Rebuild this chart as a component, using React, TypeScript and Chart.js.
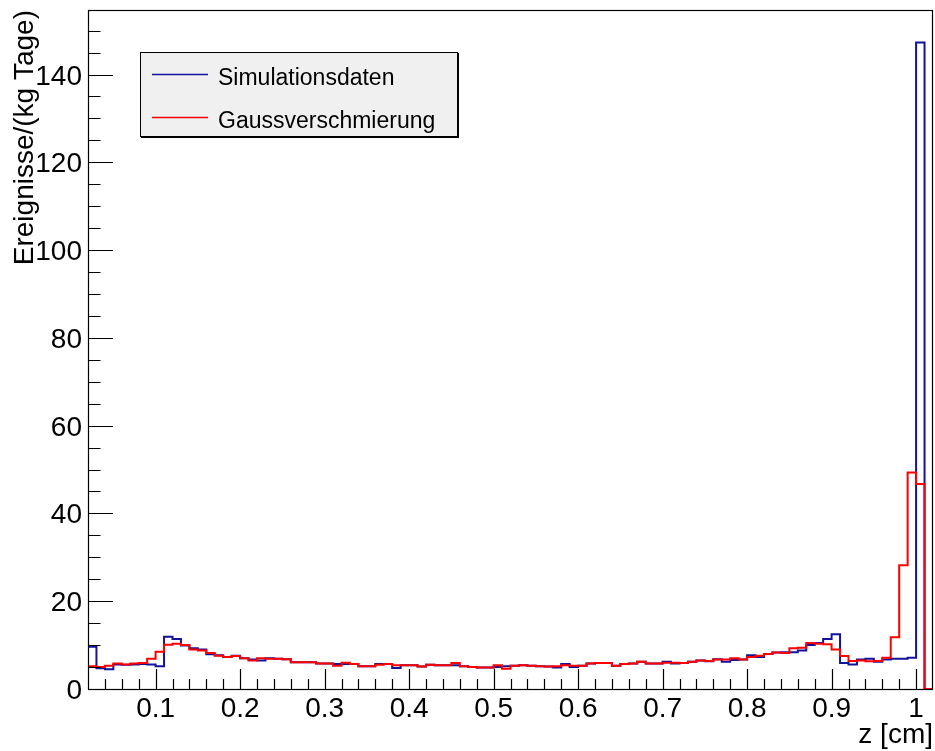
import React, { useEffect, useRef } from "react";
import { Chart, registerables } from "chart.js";

Chart.register(...registerables);

// Histogram binning: 100 bins of 0.01 cm starting at z = 0.02 cm
const binLow = 0.02;
const binWidth = 0.01;

// Ereignisse/(kg Tage) per bin, simulated spectrum
const simulationsdaten = [
  9.6, 4.7, 4.5, 5.6, 5.5, 5.6, 5.7, 5.6, 5.2, 11.9,
  11.4, 9.9, 9.3, 9.0, 7.9, 7.7, 7.3, 7.6, 7.0, 6.7,
  6.5, 7.0, 6.9, 6.8, 6.1, 6.1, 6.1, 5.8, 5.8, 5.7,
  5.7, 5.7, 5.2, 5.2, 5.7, 5.7, 4.8, 5.4, 5.4, 5.1,
  5.5, 5.4, 5.4, 5.4, 5.2, 5.0, 4.9, 4.9, 5.0, 5.2,
  5.3, 5.4, 5.3, 5.2, 5.1, 4.9, 5.7, 5.0, 5.3, 5.8,
  5.9, 5.9, 5.3, 5.7, 5.8, 6.2, 5.8, 5.8, 6.2, 5.8,
  5.9, 6.2, 6.5, 6.3, 6.8, 6.2, 6.6, 6.7, 7.7, 7.3,
  8.0, 8.3, 8.4, 8.4, 8.8, 10.0, 10.5, 11.4, 12.5, 5.9,
  5.6, 6.7, 6.9, 6.2, 6.7, 6.9, 6.9, 7.1, 147.3, 0,
];

// Same spectrum after Gaussian smearing
const gaussverschmierung = [
  5.2, 5.0, 5.3, 5.8, 5.6, 5.8, 5.9, 6.9, 8.5, 10.1,
  10.3, 10.0, 9.0, 8.8, 8.2, 7.6, 7.3, 7.5, 7.0, 6.5,
  7.0, 6.9, 6.9, 6.8, 6.1, 6.1, 6.1, 5.8, 5.8, 5.3,
  6.0, 5.7, 5.2, 5.2, 5.5, 5.7, 5.4, 5.4, 5.4, 5.1,
  5.5, 5.4, 5.4, 5.9, 5.2, 5.0, 4.9, 4.9, 5.4, 4.6,
  5.3, 5.4, 5.3, 5.2, 5.1, 5.2, 5.4, 5.3, 5.3, 5.8,
  5.9, 5.9, 5.3, 5.7, 5.8, 6.2, 5.8, 5.8, 6.0, 6.0,
  5.9, 6.2, 6.5, 6.4, 6.7, 6.7, 7.0, 6.7, 7.3, 7.6,
  8.0, 8.3, 8.2, 9.3, 9.4, 10.5, 10.3, 10.2, 9.0, 7.5,
  6.4, 6.5, 6.3, 6.4, 7.1, 11.8, 28.2, 49.3, 46.7, 0,
];

const seriesNames = ["Simulationsdaten", "Gaussverschmierung"];

const xMin = 0.02;
const xMax = 1.02;
const yMin = 0;
const yMax = 154.7;

const xMajorTicks = [0.1, 0.2, 0.3, 0.4, 0.5, 0.6, 0.7, 0.8, 0.9, 1.0];
const xTickLabels = ["0.1", "0.2", "0.3", "0.4", "0.5", "0.6", "0.7", "0.8", "0.9", "1"];
const xMinorStep = 0.02;
const yMajorTicks = [0, 20, 40, 60, 80, 100, 120, 140];
const yTickLabels = ["0", "20", "40", "60", "80", "100", "120", "140"];
const yMinorStep = 5;

const xTitle = "z [cm]";
const yTitle = "Ereignisse/(kg Tage)";

const BLUE = "#12129c";
const RED = "#ff0000";
const FONT = '"Liberation Sans", Arial, Helvetica, sans-serif';

function toSteps(values: number[]) {
  const pts = values.map((v, i) => ({ x: binLow + i * binWidth, y: v }));
  pts.push({ x: binLow + values.length * binWidth, y: values[values.length - 1] });
  return pts;
}

const axesPlugin = {
  id: "rootAxes",
  afterDatasetsDraw(chart: any) {
    const { ctx, chartArea, scales } = chart;
    const xs = scales.x;
    const ys = scales.y;
    const { left, right, top, bottom } = chartArea;
    ctx.save();
    ctx.strokeStyle = "#000";
    ctx.lineWidth = 1.2;
    ctx.strokeRect(left + 0.5, top + 0.5, right - left - 1, bottom - top);

    ctx.beginPath();
    // x ticks: minor and major
    for (let k = 1; ; k++) {
      const v = xMin + k * xMinorStep;
      if (v > xMax - 1e-9) break;
      const px = Math.round(xs.getPixelForValue(v)) + 0.5;
      const isMajor = xMajorTicks.some((m) => Math.abs(m - v) < 1e-6);
      const len = isMajor ? 20 : 10;
      ctx.moveTo(px, bottom);
      ctx.lineTo(px, bottom - len);
    }
    // y ticks
    for (let k = 0; ; k++) {
      const v = yMin + k * yMinorStep;
      if (v > yMax) break;
      const py = Math.round(ys.getPixelForValue(v)) + 0.5;
      const isMajor = yMajorTicks.includes(v);
      const len = isMajor ? 25 : 12.5;
      ctx.moveTo(left, py);
      ctx.lineTo(left + len, py);
    }
    ctx.stroke();

    // tick labels
    ctx.fillStyle = "#000";
    ctx.font = `28px ${FONT}`;
    ctx.textAlign = "center";
    ctx.textBaseline = "alphabetic";
    xMajorTicks.forEach((v, i) => {
      ctx.fillText(xTickLabels[i], xs.getPixelForValue(v), 717);
    });
    ctx.textAlign = "right";
    yMajorTicks.forEach((v, i) => {
      ctx.fillText(yTickLabels[i], 82, ys.getPixelForValue(v) + 10);
    });

    // axis titles
    ctx.textAlign = "right";
    ctx.fillText(xTitle, 933, 743);
    ctx.save();
    ctx.translate(33, 10);
    ctx.rotate(-Math.PI / 2);
    ctx.textAlign = "right";
    ctx.fillText(yTitle, 0, 0);
    ctx.restore();
    ctx.restore();
  },
  afterDraw(chart: any) {
    const { ctx } = chart;
    ctx.save();
    // legend box with a thin shadow on the right and bottom
    ctx.fillStyle = "#000";
    ctx.fillRect(141, 53, 318, 85);
    ctx.fillStyle = "#f0f0f0";
    ctx.fillRect(140, 52, 318, 85);
    ctx.strokeStyle = "#000";
    ctx.lineWidth = 1;
    ctx.strokeRect(140.5, 52.5, 317, 84);

    const entries = [
      { name: seriesNames[0], color: BLUE, y: 74 },
      { name: seriesNames[1], color: RED, y: 117 },
    ];
    ctx.font = `23px ${FONT}`;
    ctx.textAlign = "left";
    ctx.textBaseline = "alphabetic";
    entries.forEach((e) => {
      ctx.strokeStyle = e.color;
      ctx.lineWidth = 1.5;
      ctx.beginPath();
      ctx.moveTo(152, e.y + 0.5);
      ctx.lineTo(208, e.y + 0.5);
      ctx.stroke();
      ctx.fillStyle = "#000";
      ctx.fillText(e.name, 218, e.y + 11);
    });
    ctx.restore();
  },
};

export default function App() {
  const canvasRef = useRef<HTMLCanvasElement | null>(null);

  useEffect(() => {
    if (!canvasRef.current) return;
    const chart = new Chart(canvasRef.current, {
      type: "line",
      data: {
        datasets: [
          {
            label: seriesNames[1],
            data: toSteps(gaussverschmierung),
            borderColor: RED,
            borderWidth: 2,
            pointRadius: 0,
            stepped: "before",
            fill: false,
          },
          {
            label: seriesNames[0],
            data: toSteps(simulationsdaten),
            borderColor: BLUE,
            borderWidth: 2,
            pointRadius: 0,
            stepped: "before",
            fill: false,
          },
        ],
      },
      options: {
        responsive: false,
        animation: false,
        layout: { padding: { left: 88, right: 2, top: 10, bottom: 62 } },
        scales: {
          x: { type: "linear", min: xMin, max: xMax, display: false },
          y: { type: "linear", min: yMin, max: yMax, display: false },
        },
        plugins: {
          legend: { display: false },
          tooltip: { enabled: false },
        },
      },
      plugins: [axesPlugin],
    });
    return () => chart.destroy();
  }, []);

  return (
    <div style={{ position: "absolute", left: 0, top: 0, width: 935, height: 751, background: "#fff" }}>
      <canvas ref={canvasRef} width={935} height={751} style={{ display: "block" }} />
    </div>
  );
}
